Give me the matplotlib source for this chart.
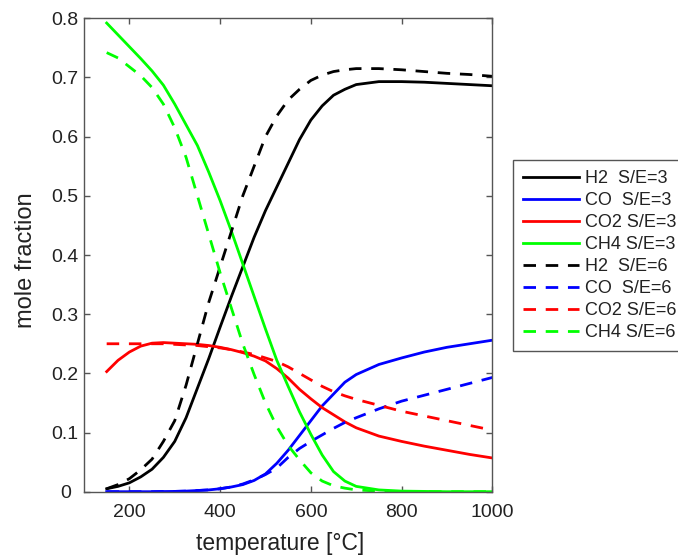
import numpy as np
import matplotlib
matplotlib.use("Agg")
import matplotlib.pyplot as plt

plt.rcParams['font.family'] = ['Liberation Sans', 'DejaVu Sans']

# temperature grid [C]
temperature = [150, 175, 200, 225, 250, 275, 300, 325, 350, 375, 400, 425, 450, 475,
               500, 525, 550, 575, 600, 625, 650, 675, 700, 750, 800, 850, 900, 950, 1000]

# equilibrium mole fractions, steam/ethanol = 3
h2_se3 = [0.005, 0.009, 0.015, 0.025, 0.038, 0.058, 0.085, 0.125, 0.175, 0.225, 0.278, 0.33,
          0.38, 0.43, 0.475, 0.515, 0.555, 0.595, 0.628, 0.652, 0.67, 0.68, 0.688, 0.693,
          0.693, 0.692, 0.69, 0.688, 0.686]
co_se3 = [0, 0, 0, 0, 0, 0.0003, 0.0005, 0.001, 0.002, 0.003, 0.005, 0.008, 0.012, 0.019,
          0.03, 0.048, 0.07, 0.095, 0.12, 0.145, 0.165, 0.185, 0.198, 0.215, 0.226, 0.236,
          0.244, 0.25, 0.256]
co2_se3 = [0.203, 0.222, 0.236, 0.246, 0.251, 0.252, 0.251, 0.25, 0.249, 0.247, 0.244, 0.24,
           0.235, 0.229, 0.221, 0.208, 0.192, 0.173, 0.157, 0.142, 0.13, 0.118, 0.108, 0.094,
           0.085, 0.077, 0.07, 0.063, 0.057]
ch4_se3 = [0.792, 0.772, 0.752, 0.732, 0.711, 0.687, 0.655, 0.62, 0.585, 0.54, 0.492, 0.44,
           0.385, 0.33, 0.275, 0.222, 0.178, 0.135, 0.097, 0.062, 0.034, 0.018, 0.009, 0.003,
           0.001, 0.0005, 0, 0, 0]

# equilibrium mole fractions, steam/ethanol = 6
h2_se6 = [0.005, 0.012, 0.022, 0.037, 0.055, 0.085, 0.12, 0.18, 0.25, 0.32, 0.38, 0.44,
          0.5, 0.55, 0.6, 0.635, 0.662, 0.68, 0.695, 0.704, 0.71, 0.713, 0.715, 0.715,
          0.713, 0.71, 0.707, 0.705, 0.702]
co_se6 = [0, 0, 0, 0, 0, 0.0003, 0.0005, 0.001, 0.002, 0.003, 0.005, 0.008, 0.013, 0.02,
          0.029, 0.04, 0.058, 0.073, 0.085, 0.096, 0.107, 0.117, 0.125, 0.14, 0.153, 0.163,
          0.173, 0.183, 0.193]
co2_se6 = [0.25, 0.25, 0.25, 0.25, 0.25, 0.25, 0.249, 0.248, 0.247, 0.245, 0.243, 0.24,
           0.236, 0.232, 0.226, 0.22, 0.211, 0.2, 0.189, 0.178, 0.169, 0.162, 0.156, 0.146,
           0.136, 0.128, 0.12, 0.112, 0.104]
ch4_se6 = [0.742, 0.733, 0.718, 0.703, 0.683, 0.655, 0.615, 0.565, 0.5, 0.435, 0.37, 0.31,
           0.25, 0.198, 0.15, 0.11, 0.078, 0.054, 0.032, 0.018, 0.01, 0.006, 0.003, 0.001,
           0, 0, 0, 0, 0]

labels = ['H2  S/E=3', 'CO  S/E=3', 'CO2 S/E=3', 'CH4 S/E=3',
          'H2  S/E=6', 'CO  S/E=6', 'CO2 S/E=6', 'CH4 S/E=6']
colors = ['black', 'blue', 'red', '#00ff00']

fig = plt.figure(figsize=(6.78, 5.55), dpi=100)
ax = fig.add_axes([84 / 678, 63.3 / 555, 408.3 / 678, 473.4 / 555])

T = np.array(temperature)
for series, c, lab in zip([h2_se3, co_se3, co2_se3, ch4_se3], colors, labels[:4]):
    ax.plot(T, series, color=c, lw=2.0, label=lab)
for series, c, lab in zip([h2_se6, co_se6, co2_se6, ch4_se6], colors, labels[4:]):
    ax.plot(T, series, color=c, lw=2.0, ls=(0, (4.5, 3.5)), label=lab)

ax.set_xlim(100, 1000)
ax.set_ylim(0, 0.8)
ax.set_xticks([200, 400, 600, 800, 1000])
ax.set_yticks(np.arange(0, 0.81, 0.1))
ax.set_yticklabels(['0', '0.1', '0.2', '0.3', '0.4', '0.5', '0.6', '0.7', '0.8'])

spine_col = '#555555'
for s in ax.spines.values():
    s.set_color(spine_col)
    s.set_linewidth(1.0)
ax.tick_params(direction='in', length=4, width=1.0, color=spine_col,
               top=True, right=True, labelsize=14, labelcolor='#222222')
ax.tick_params(axis='x', pad=9)
ax.tick_params(axis='y', pad=13.5)
for lab in ax.get_yticklabels():
    lab.set_horizontalalignment('center')

ax.set_xlabel('temperature [°C]', fontsize=16.5, color='#222222')
ax.xaxis.set_label_coords(0.48, -0.085)
ax.set_ylabel('mole fraction', fontsize=17, color='#222222')
ax.yaxis.set_label_coords(-0.115, 0.489)

leg = ax.legend(loc='upper left', bbox_to_anchor=(513 / 678, 395 / 555),
                bbox_transform=fig.transFigure, borderaxespad=0, fontsize=13,
                handlelength=3.1, handletextpad=0.35, labelspacing=0.28,
                borderpad=0.55, fancybox=False, framealpha=1)
leg.get_frame().set_edgecolor(spine_col)
leg.get_frame().set_linewidth(1.0)
for t in leg.get_texts():
    t.set_color('#222222')

fig.savefig('out.png', dpi=100)
